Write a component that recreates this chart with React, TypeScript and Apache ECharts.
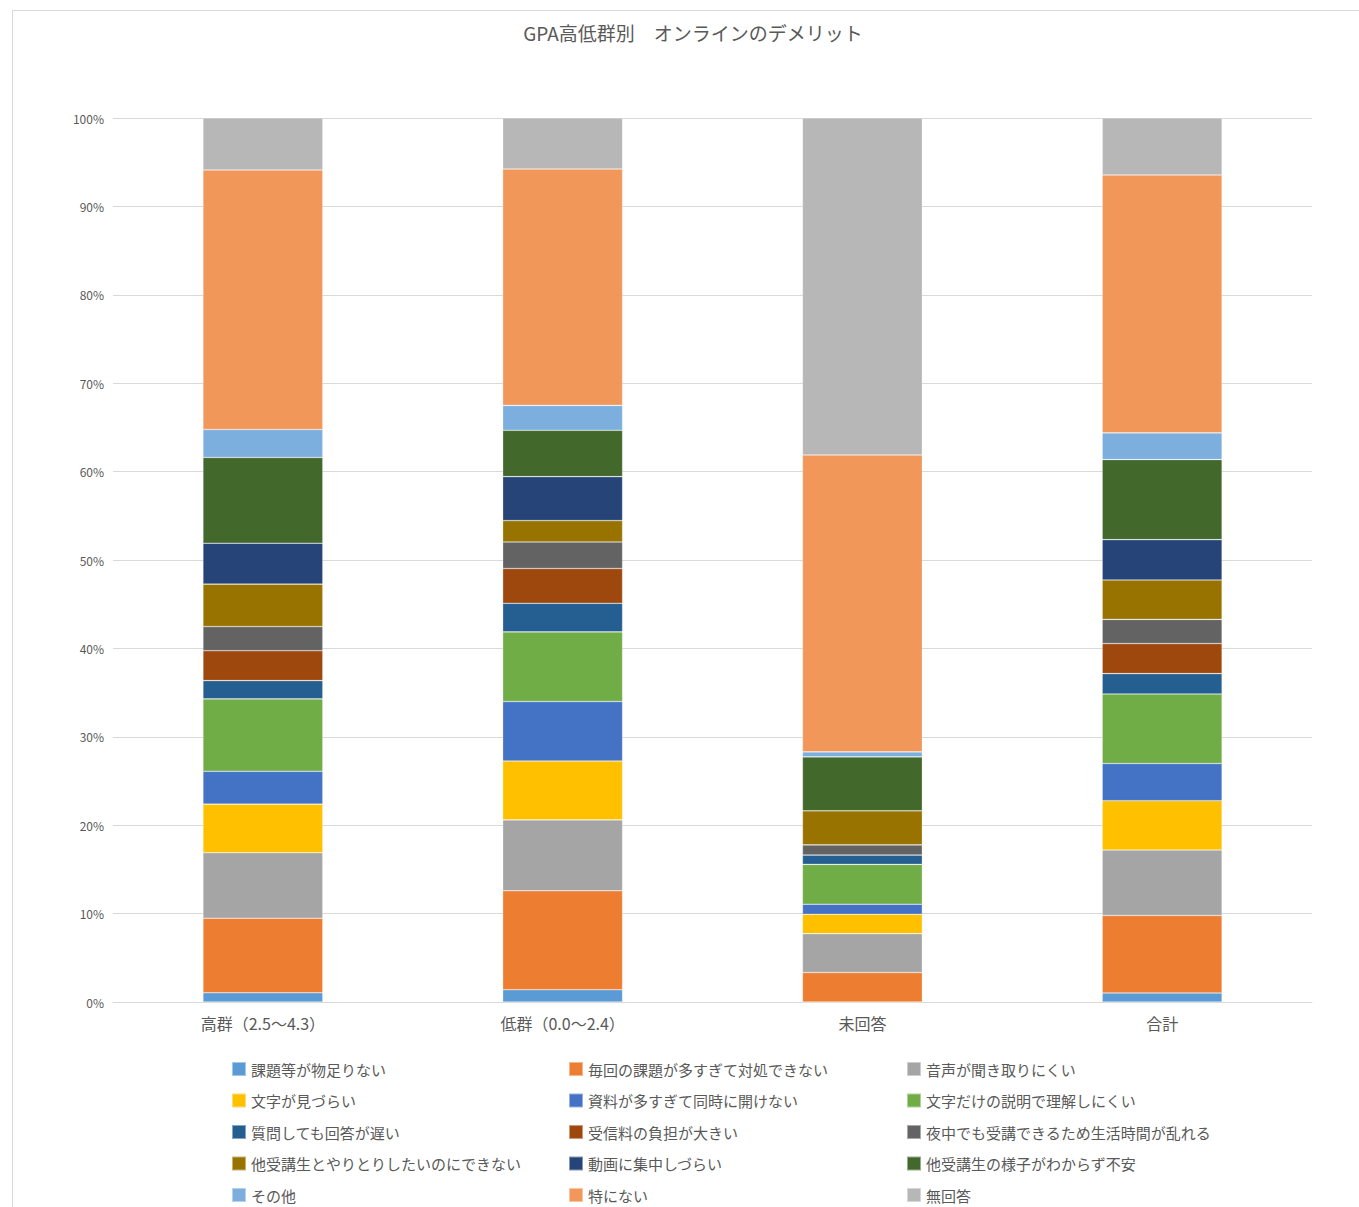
import React, { useEffect, useRef } from "react";
import * as echarts from "echarts";

const categories = ["高群（2.5～4.3）", "低群（0.0～2.4）", "未回答", "合計"];

const seriesNames = [
  "課題等が物足りない",
  "毎回の課題が多すぎて対処できない",
  "音声が聞き取りにくい",
  "文字が見づらい",
  "資料が多すぎて同時に開けない",
  "文字だけの説明で理解しにくい",
  "質問しても回答が遅い",
  "受信料の負担が大きい",
  "夜中でも受講できるため生活時間が乱れる",
  "他受講生とやりとりしたいのにできない",
  "動画に集中しづらい",
  "他受講生の様子がわからず不安",
  "その他",
  "特にない",
  "無回答",
];

const kadaiMonotarinai = [1.04, 1.39, 0, 1.02];
const kadaiOosugi = [8.44, 11.19, 3.33, 8.77];
const onsei = [7.4, 8.02, 4.4, 7.4];
const mojiMizurai = [5.5, 6.67, 2.19, 5.58];
const shiryou = [3.72, 6.72, 1.14, 4.21];
const mojiDake = [8.19, 7.88, 4.51, 7.87];
const shitsumon = [2.07, 3.23, 1.06, 2.3];
const jushinryou = [3.38, 3.94, 0, 3.4];
const yonaka = [2.73, 3.0, 1.14, 2.73];
const yaritori = [4.8, 2.42, 3.86, 4.46];
const douga = [4.63, 4.97, 0, 4.56];
const yousu = [9.7, 5.24, 6.1, 9.06];
const sonota = [3.16, 2.82, 0.57, 3.02];
const tokuniNai = [29.36, 26.74, 33.58, 29.17];
const mukaitou = [5.88, 5.77, 38.12, 6.45];

const seriesData = [
  kadaiMonotarinai, kadaiOosugi, onsei, mojiMizurai, shiryou, mojiDake, shitsumon,
  jushinryou, yonaka, yaritori, douga, yousu, sonota, tokuniNai, mukaitou,
];

const colors = [
  "#5B9BD5", "#ED7D31", "#A5A5A5", "#FFC000", "#4472C4", "#70AD47", "#255E91",
  "#9E480E", "#636363", "#997300", "#264478", "#43682B", "#7CAFDD", "#F1975A", "#B7B7B7",
];

const yTicks = [0, 10, 20, 30, 40, 50, 60, 70, 80, 90, 100];

const FONT = "'Noto Sans CJK JP', 'Noto Sans', sans-serif";

export default function App() {
  const ref = useRef<HTMLDivElement>(null);
  useEffect(() => {
    if (!ref.current) return;
    const chart = echarts.init(ref.current, undefined, { renderer: "svg" });
    const legendCol = (col: number, left: number) => ({
      orient: "vertical",
      left,
      top: 1060,
      height: 200,
      padding: 0,
      itemWidth: 14,
      itemHeight: 14,
      itemGap: 13.5,
      icon: "rect",
      textStyle: { fontFamily: FONT, fontSize: 15, color: "#595959", lineHeight: 18 },
      data: seriesNames.filter((_, i) => i % 3 === col),
    });
    chart.setOption({
      animation: false,
      color: colors,
      title: {
        text: "GPA高低群別　オンラインのデメリット",
        left: 688,
        top: 18,
        textAlign: "center",
        textStyle: { fontFamily: FONT, fontSize: 19, fontWeight: "normal", color: "#595959" },
      },
      graphic: [
        {
          type: "rect",
          shape: { x: 12.5, y: 10.5, width: 1360, height: 1220 },
          style: { fill: "none", stroke: "#d9d9d9", lineWidth: 1 },
          silent: true,
        },
      ],
      legend: [legendCol(0, 231), legendCol(1, 568), legendCol(2, 906)],
      grid: { left: 113, right: 47, top: 118, bottom: 205, containLabel: false },
      xAxis: {
        type: "category",
        data: categories,
        axisLine: { lineStyle: { color: "#d9d9d9" } },
        axisTick: { show: false },
        axisLabel: { fontFamily: FONT, fontSize: 16, color: "#595959", margin: 13 },
      },
      yAxis: {
        type: "value",
        min: yTicks[0],
        max: yTicks[yTicks.length - 1],
        interval: 10,
        axisLine: { show: false },
        axisTick: { show: false },
        splitLine: { lineStyle: { color: "#d9d9d9" } },
        axisLabel: { fontFamily: FONT, fontSize: 12, color: "#595959", margin: 9, formatter: "{value}%" },
      },
      series: seriesNames.map((name, i) => ({
        name,
        type: "bar",
        stack: "total",
        barWidth: "40%",
        data: seriesData[i],
        itemStyle: { color: colors[i], borderColor: "rgba(255,255,255,0.45)", borderWidth: 0.6 },
      })),
    });
    return () => chart.dispose();
  }, []);
  return (
    <div
      ref={ref}
      style={{ position: "absolute", left: 0, top: 0, width: 1359, height: 1207, background: "#fff" }}
    />
  );
}
